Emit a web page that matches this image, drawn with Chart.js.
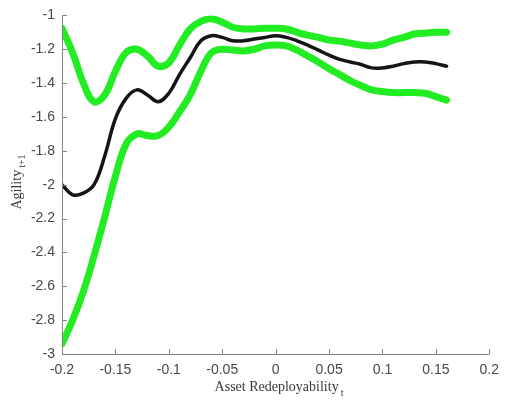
<!DOCTYPE html>
<html>
<head>
<meta charset="utf-8">
<script src="https://cdn.jsdelivr.net/npm/chart.js@4/dist/chart.umd.min.js"></script>
<style>
  html, body { margin: 0; padding: 0; background: #fff; }
  #wrap { width: 507px; height: 406px; position: relative; }
</style>
</head>
<body>
<div id="wrap"><canvas id="chart"></canvas></div>
<script>
const xValues = [-0.2, -0.19, -0.18, -0.17, -0.16, -0.15, -0.14, -0.13, -0.12, -0.11, -0.10,
  -0.09, -0.08, -0.07, -0.06, -0.05, -0.04, -0.03, -0.02, -0.01, 0,
  0.01, 0.02, 0.03, 0.04, 0.05, 0.06, 0.07, 0.08, 0.09, 0.10,
  0.11, 0.12, 0.13, 0.14, 0.15, 0.16];

const estimate = [-2.00, -2.06, -2.05, -2.00, -1.83, -1.61, -1.49, -1.44, -1.47, -1.51, -1.46,
  -1.35, -1.25, -1.15, -1.12, -1.13, -1.15, -1.15, -1.14, -1.13, -1.12,
  -1.13, -1.15, -1.175, -1.205, -1.235, -1.26, -1.275, -1.29, -1.31, -1.31,
  -1.30, -1.285, -1.275, -1.275, -1.285, -1.30];

const upperBand = [-1.076, -1.22, -1.40, -1.51, -1.47, -1.33, -1.22, -1.20, -1.24, -1.30, -1.28,
  -1.175, -1.08, -1.035, -1.02, -1.04, -1.07, -1.08, -1.08, -1.076, -1.076,
  -1.08, -1.10, -1.117, -1.13, -1.146, -1.152, -1.164, -1.175, -1.18, -1.17,
  -1.146, -1.13, -1.11, -1.105, -1.10, -1.10];

const lowerBand = [-2.94, -2.80, -2.63, -2.42, -2.19, -1.95, -1.76, -1.70, -1.71, -1.71, -1.66,
  -1.57, -1.47, -1.33, -1.22, -1.20, -1.205, -1.21, -1.20, -1.18, -1.175,
  -1.18, -1.205, -1.24, -1.275, -1.315, -1.35, -1.386, -1.415, -1.44, -1.45,
  -1.456, -1.456, -1.456, -1.46, -1.48, -1.50];

const xTicks = [-0.2, -0.15, -0.1, -0.05, 0, 0.05, 0.1, 0.15, 0.2];
const yTicks = [-3, -2.8, -2.6, -2.4, -2.2, -2, -1.8, -1.6, -1.4, -1.2, -1];

const toPoints = (ys) => ys.map((y, i) => ({ x: xValues[i], y }));

const axisColor = '#858585';
const tickColor = '#484848';

// matlab style: left and bottom axis lines only, ticks pointing inward, titles with subscripts
const axesPlugin = {
  id: 'axesPlugin',
  afterDraw(chart) {
    const { ctx, chartArea: a, scales } = chart;
    ctx.save();
    ctx.strokeStyle = axisColor;
    ctx.lineWidth = 1;
    ctx.beginPath();
    ctx.moveTo(a.left + 0.5, a.top);
    ctx.lineTo(a.left + 0.5, a.bottom + 0.5);
    ctx.lineTo(a.right, a.bottom + 0.5);
    yTicks.forEach((v) => {
      const py = Math.round(scales.y.getPixelForValue(v)) + 0.5;
      ctx.moveTo(a.left, py);
      ctx.lineTo(a.left + 5, py);
    });
    xTicks.forEach((v) => {
      const px = Math.round(scales.x.getPixelForValue(v)) + 0.5;
      ctx.moveTo(px, a.bottom);
      ctx.lineTo(px, a.bottom - 5);
    });
    ctx.stroke();

    ctx.fillStyle = '#383838';
    ctx.textBaseline = 'alphabetic';
    ctx.textAlign = 'left';
    // x title
    const xMain = 'Asset Redeployability';
    ctx.font = '14px "Liberation Serif"';
    const w1 = ctx.measureText(xMain).width;
    ctx.font = '10px "Liberation Serif"';
    const w2 = ctx.measureText('t').width;
    const sx = 278 - (w1 + w2) / 2;
    ctx.font = '14px "Liberation Serif"';
    ctx.fillText(xMain, sx, 391);
    ctx.font = '10px "Liberation Serif"';
    ctx.fillText('t', sx + w1 + 2, 396);

    // y title
    ctx.translate(21, 183);
    ctx.rotate(-Math.PI / 2);
    ctx.font = '14px "Liberation Serif"';
    const yMain = 'Agility';
    const yw = ctx.measureText(yMain).width;
    ctx.font = '10px "Liberation Serif"';
    const ys = ctx.measureText('t+1').width;
    const tx = -(yw + ys) / 2;
    ctx.font = '14px "Liberation Serif"';
    ctx.fillText(yMain, tx, 0);
    ctx.font = '10px "Liberation Serif"';
    ctx.fillText('t+1', tx + yw + 2, 4);
    ctx.restore();
  }
};

const lineSet = (label, ys, color, width) => ({
  label,
  data: toPoints(ys),
  borderColor: color,
  borderWidth: width,
  pointRadius: 0,
  fill: false,
  tension: 0.4,
  borderCapStyle: 'round',
  borderJoinStyle: 'round'
});

new Chart(document.getElementById('chart'), {
  type: 'line',
  data: {
    datasets: [
      lineSet('Upper', upperBand, 'rgb(34, 236, 34)', 7),
      lineSet('Lower', lowerBand, 'rgb(34, 236, 34)', 7),
      lineSet('Estimate', estimate, '#151515', 3.5)
    ]
  },
  plugins: [axesPlugin],
  options: {
    responsive: true,
    maintainAspectRatio: false,
    animation: false,
    layout: { padding: { top: 12, right: 11, bottom: 0, left: 0 } },
    plugins: {
      legend: { display: false },
      tooltip: { enabled: false }
    },
    scales: {
      x: {
        type: 'linear',
        min: -0.2,
        max: 0.2,
        afterBuildTicks: (s) => { s.ticks = xTicks.map((v) => ({ value: v })); },
        afterFit: (s) => { s.height = 52; },
        grid: { display: false, drawTicks: false },
        border: { display: false },
        ticks: {
          padding: 8,
          color: tickColor,
          font: { family: '"Liberation Sans", Arial', size: 14 },
          callback: (v) => String(v)
        }
      },
      y: {
        min: -3,
        max: -1,
        afterBuildTicks: (s) => { s.ticks = yTicks.map((v) => ({ value: v })); },
        afterFit: (s) => { s.width = 62; },
        grid: { display: false, drawTicks: false },
        border: { display: false },
        ticks: {
          padding: 7,
          color: tickColor,
          font: { family: '"Liberation Sans", Arial', size: 14 },
          callback: (v) => String(Math.round(v * 10) / 10)
        }
      }
    }
  }
});
</script>
</body>
</html>
